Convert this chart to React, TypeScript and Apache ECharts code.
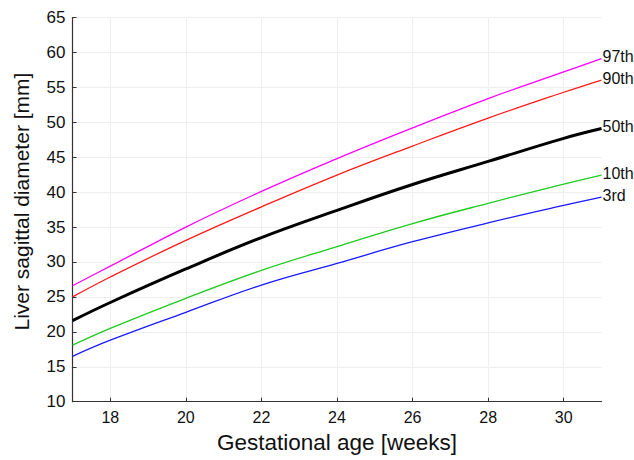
import React, { useEffect, useRef } from "react";
import * as echarts from "echarts";

const weeks = [17, 18, 20, 22, 24, 26, 28, 30, 31];
const p97 = [26.6, 29.4, 35.0, 40.1, 44.8, 49.2, 53.4, 57.2, 59.1];
const p90 = [25.0, 27.85, 33.1, 37.9, 42.45, 46.6, 50.6, 54.3, 56.05];
const p50 = [21.6, 24.2, 29.0, 33.5, 37.4, 41.1, 44.4, 47.7, 49.1];
const p10 = [18.1, 20.5, 24.8, 28.8, 32.2, 35.5, 38.4, 41.15, 42.45];
const p3 = [16.5, 18.8, 22.8, 26.7, 29.8, 32.9, 35.6, 38.1, 39.3];
const xTicks = [18, 20, 22, 24, 26, 28, 30];

const seriesDefs = [
  { name: "97th", data: p97, color: "#ff00ff", width: 1.3 },
  { name: "90th", data: p90, color: "#ff1a1a", width: 1.3 },
  { name: "50th", data: p50, color: "#000000", width: 3 },
  { name: "10th", data: p10, color: "#1ecb1e", width: 1.3 },
  { name: "3rd", data: p3, color: "#1a1aff", width: 1.3 },
];

export default function App() {
  const ref = useRef<HTMLDivElement>(null);
  useEffect(() => {
    document.body.style.margin = "0";
    const chart = echarts.init(ref.current!, null, { renderer: "svg" });
    const font = "'Liberation Sans', Arial, sans-serif";
    chart.setOption({
      animation: false,
      backgroundColor: "#ffffff",
      textStyle: { fontFamily: font },
      grid: { left: 72.5, right: 32.5, top: 17.5, bottom: 58.3 },
      xAxis: {
        type: "value",
        min: 17,
        max: 31,
        name: "Gestational age [weeks]",
        nameLocation: "middle",
        nameGap: 29,
        nameTextStyle: { fontSize: 22.5, color: "#111", fontFamily: font },
        axisLine: { show: true, lineStyle: { color: "#333", width: 1.2 } },
        axisTick: { show: true, inside: true, length: 4, customValues: xTicks, lineStyle: { color: "#333" } },
        axisLabel: { customValues: xTicks, fontSize: 16, color: "#111", margin: 8, fontFamily: font },
        splitLine: { show: true, lineStyle: { color: "#eeeeee", width: 1 } },
      },
      yAxis: {
        type: "value",
        min: 10,
        max: 65,
        interval: 5,
        name: "Liver sagittal diameter [mm]",
        nameLocation: "middle",
        nameGap: 41,
        nameTextStyle: { fontSize: 21, color: "#111", fontFamily: font, padding: [0, 0, 0, 16] },
        axisLine: { show: true, lineStyle: { color: "#333", width: 1.2 } },
        axisTick: { show: true, inside: true, length: 4, lineStyle: { color: "#333" } },
        axisLabel: { fontSize: 17, color: "#111", margin: 7, fontFamily: font },
        splitLine: { show: true, lineStyle: { color: "#eeeeee", width: 1 } },
      },
      series: seriesDefs.map((s) => ({
        type: "line",
        name: s.name,
        data: weeks.map((w, i) => [w, s.data[i]]),
        smooth: 0.4,
        showSymbol: false,
        symbol: "none",
        lineStyle: { color: s.color, width: s.width },
        itemStyle: { color: s.color },
        endLabel: {
          show: true,
          formatter: "{a}",
          distance: 1,
          fontSize: 16,
          color: "#111",
          fontFamily: font,
          offset: [0, -2],
        },
      })),
    });
    return () => chart.dispose();
  }, []);
  return <div ref={ref} style={{ width: 634, height: 460 }} />;
}
